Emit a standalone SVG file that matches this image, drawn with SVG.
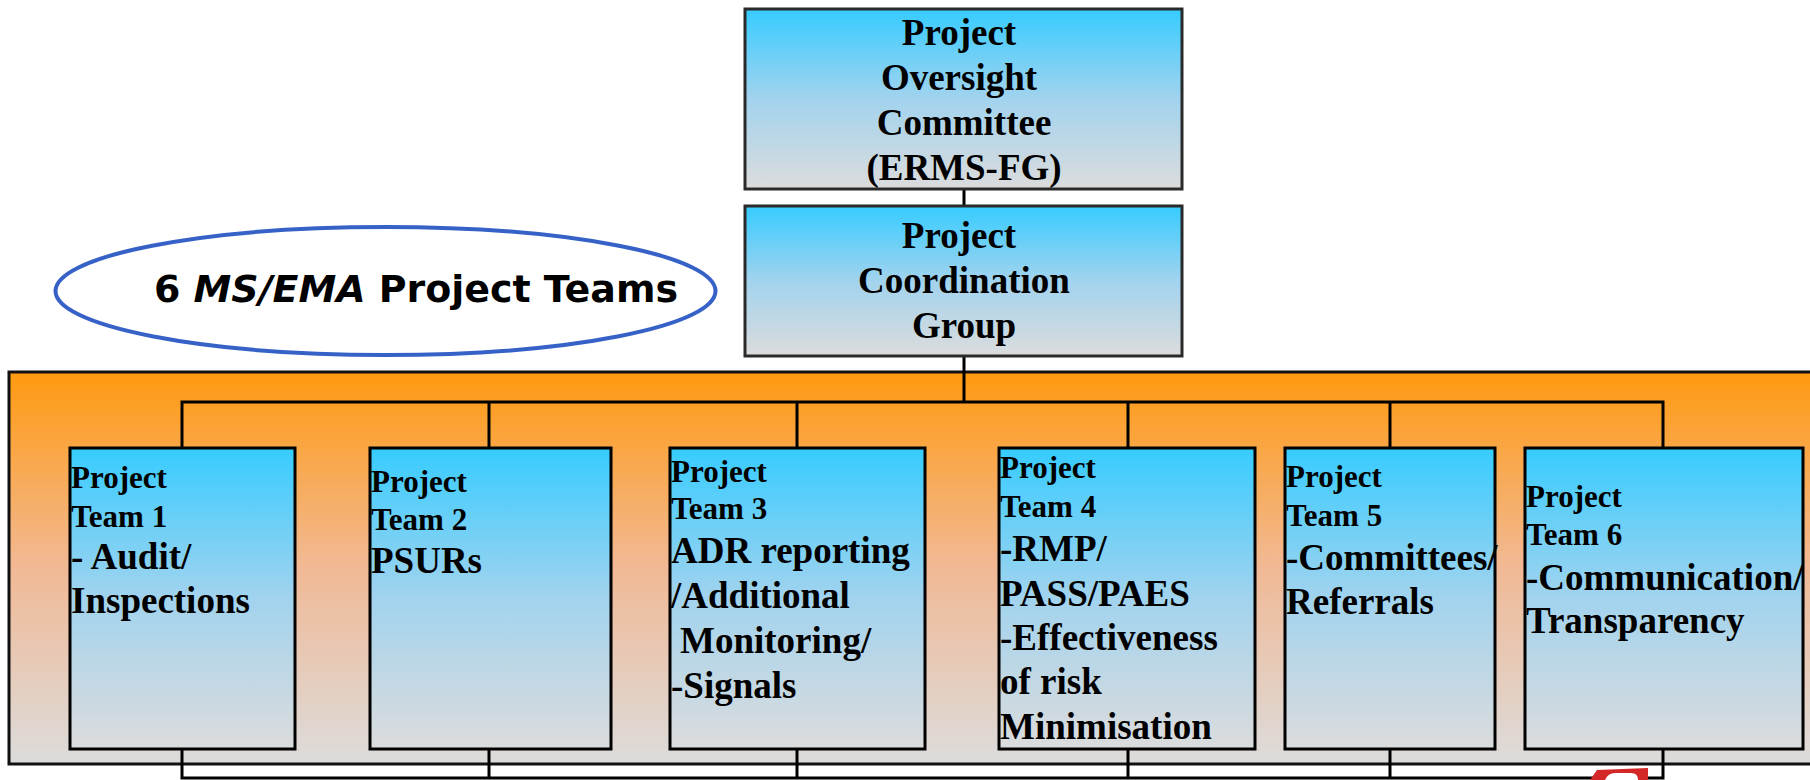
<svg xmlns="http://www.w3.org/2000/svg" width="1810" height="780" viewBox="0 0 1810 780">
<defs>
<linearGradient id="gOrange" x1="0" y1="0" x2="0" y2="1">
<stop offset="0" stop-color="#ff9a10"/>
<stop offset="0.5" stop-color="#f1b995"/>
<stop offset="1" stop-color="#dcdcdc"/>
</linearGradient>
<linearGradient id="gBox" x1="0" y1="0" x2="0" y2="1">
<stop offset="0" stop-color="#36ccff"/>
<stop offset="0.5" stop-color="#a2d3ee"/>
<stop offset="1" stop-color="#dcdcdc"/>
</linearGradient>
<style>
.top{fill:url(#gBox);stroke:#2a2a2a;stroke-width:3}
.team{fill:url(#gBox);stroke:#000;stroke-width:3}
.ln{stroke:#000;stroke-width:3;fill:none}
.t{font-family:"Liberation Serif","Times New Roman",serif;font-weight:bold;fill:#000}
.c{text-anchor:middle;font-size:37px}
.s{font-size:31px}
.b{font-size:37px}
</style>
</defs>
<rect x="0" y="0" width="1810" height="780" fill="#fff"/>
<g id="panel">
<rect x="9" y="372" width="1810" height="392" fill="url(#gOrange)" stroke="#111" stroke-width="3"/>
</g>
<g id="connectors">
<line class="ln" x1="964" y1="190" x2="964" y2="205"/>
<line class="ln" x1="964" y1="357" x2="964" y2="402"/>
<polyline class="ln" points="182,447 182,402 1663,402 1663,447"/>
<line class="ln" x1="489" y1="402" x2="489" y2="447"/>
<line class="ln" x1="797" y1="402" x2="797" y2="447"/>
<line class="ln" x1="1128" y1="402" x2="1128" y2="447"/>
<line class="ln" x1="1390" y1="402" x2="1390" y2="447"/>
<polyline class="ln" points="182,749 182,778 1663,778 1663,749"/>
<line class="ln" x1="489" y1="749" x2="489" y2="778"/>
<line class="ln" x1="797" y1="749" x2="797" y2="778"/>
<line class="ln" x1="1128" y1="749" x2="1128" y2="778"/>
<line class="ln" x1="1390" y1="749" x2="1390" y2="778"/>
</g>
<g id="oversight">
<rect class="top" x="745" y="9" width="437" height="180"/>
<text class="t c" x="959" y="45">Project</text>
<text class="t c" x="959" y="90">Oversight</text>
<text class="t c" x="964" y="135">Committee</text>
<text class="t c" x="964" y="180">(ERMS-FG)</text>
</g>
<g id="coordination">
<rect class="top" x="745" y="206" width="437" height="150"/>
<text class="t c" x="959" y="248">Project</text>
<text class="t c" x="964" y="293">Coordination</text>
<text class="t c" x="964" y="338">Group</text>
</g>
<g id="label">
<ellipse cx="385.5" cy="291" rx="330" ry="64" fill="#fff" stroke="#3662c8" stroke-width="4"/>
<text x="154" y="302" font-family="DejaVu Sans, Verdana, sans-serif" font-weight="bold" font-size="37.5" textLength="524" lengthAdjust="spacingAndGlyphs">6 <tspan font-style="italic">MS/EMA</tspan> Project Teams</text>
</g>
<g id="team1">
<rect class="team" x="70" y="448" width="225" height="301"/>
<text class="t s" x="71" y="488">Project</text>
<text class="t s" x="71" y="527">Team 1</text>
<text class="t b" x="71" y="569">- Audit/</text>
<text class="t b" x="71" y="613">Inspections</text>
</g>
<g id="team2">
<rect class="team" x="370" y="448" width="241" height="301"/>
<text class="t s" x="371" y="492">Project</text>
<text class="t s" x="371" y="530">Team 2</text>
<text class="t b" x="371" y="573">PSURs</text>
</g>
<g id="team3">
<rect class="team" x="670" y="448" width="255" height="301"/>
<text class="t s" x="671" y="482">Project</text>
<text class="t s" x="671" y="519">Team 3</text>
<text class="t b" x="671" y="563">ADR reporting</text>
<text class="t b" x="671" y="608">/Additional</text>
<text class="t b" x="680" y="653">Monitoring/</text>
<text class="t b" x="671" y="698">-Signals</text>
</g>
<g id="team4">
<rect class="team" x="999" y="448" width="256" height="301"/>
<text class="t s" x="1000" y="478">Project</text>
<text class="t s" x="1000" y="517">Team 4</text>
<text class="t b" x="1000" y="561">-RMP/</text>
<text class="t b" x="1000" y="606">PASS/PAES</text>
<text class="t b" x="1000" y="650">-Effectiveness</text>
<text class="t b" x="1000" y="694">of risk</text>
<text class="t b" x="1000" y="739">Minimisation</text>
</g>
<g id="team5">
<rect class="team" x="1285" y="448" width="210" height="301"/>
<text class="t s" x="1286" y="487">Project</text>
<text class="t s" x="1286" y="526">Team 5</text>
<text class="t b" x="1286" y="570">-Committees/</text>
<text class="t b" x="1286" y="614">Referrals</text>
</g>
<g id="team6">
<rect class="team" x="1525" y="448" width="278" height="301"/>
<text class="t s" x="1526" y="507">Project</text>
<text class="t s" x="1526" y="545">Team 6</text>
<text class="t b" x="1526" y="590">-Communication/</text>
<text class="t b" x="1526" y="633">Transparency</text>
</g>
<g id="logo">
<polygon points="1590,780 1597,770 1648,768 1648,780" fill="#d42828"/>
<path d="M1605,780 Q1608,773 1615,773 L1631,773 Q1638,773 1638,780 Z" fill="#fff"/>
</g>
</svg>
